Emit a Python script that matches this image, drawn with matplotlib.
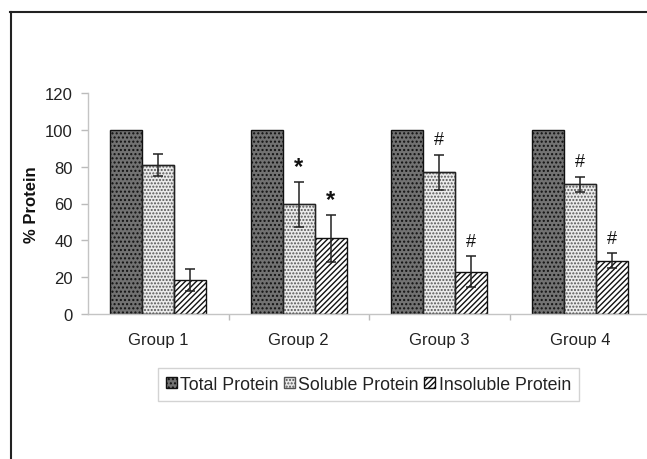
import matplotlib
matplotlib.use("Agg")
import matplotlib.pyplot as plt
import numpy as np
from matplotlib.lines import Line2D

plt.rcParams['font.family'] = ['Liberation Sans', 'DejaVu Sans']

groups = ["Group 1", "Group 2", "Group 3", "Group 4"]
series = ["Total Protein", "Soluble Protein", "Insoluble Protein"]
total = [100, 100, 100, 100]
soluble = [81, 59.5, 77, 70.5]
soluble_err = [6, 12, 9.5, 4]
insoluble = [18.5, 41, 23, 29]
insoluble_err = [6, 12.5, 8.5, 4]
soluble_marks = ["", "*", "#", "#"]
insoluble_marks = ["", "*", "#", "#"]
yticks = [0, 20, 40, 60, 80, 100, 120]

fig = plt.figure(figsize=(6.47, 4.6), dpi=100)
W, H = 647, 460
ax = fig.add_axes([88 / W, (H - 315) / H, (W - 88) / W, (315 - 94) / H])

x = np.arange(len(groups))
bw = 0.228
ax.bar(x - bw, total, bw, facecolor='#727272', edgecolor='#111111', hatch='....',
       linewidth=1.0, label=series[0], zorder=2)
ax.bar(x, soluble, bw, facecolor='#ebebeb', edgecolor='#555555', linewidth=1.0,
       hatch='.....', label=series[1], zorder=2)
ax.bar(x + bw, insoluble, bw, facecolor='white', edgecolor='#111111', hatch='//////',
       linewidth=1.0, label=series[2], zorder=2)
# redraw soluble edges darker
ax.bar(x, soluble, bw, facecolor='none', edgecolor='#222222', linewidth=1.0, zorder=3)

ax.errorbar(x, soluble, yerr=soluble_err, fmt='none', ecolor='#222222',
            elinewidth=1.1, capsize=3.6, capthick=1.1, zorder=4)
ax.errorbar(x + bw, insoluble, yerr=insoluble_err, fmt='none', ecolor='#222222',
            elinewidth=1.1, capsize=3.6, capthick=1.1, zorder=4)

for i in range(len(groups)):
    for xx, v, e, m in [(x[i], soluble[i], soluble_err[i], soluble_marks[i]),
                        (x[i] + bw, insoluble[i], insoluble_err[i], insoluble_marks[i])]:
        if m:
            if m == "*":
                ax.text(xx, v + e + 2.5, m, ha='center', va='bottom', fontsize=17,
                        fontweight='bold', color='#111111')
            else:
                ax.text(xx, v + e + 3.5, m, ha='center', va='bottom', fontsize=13,
                        color='#111111')

ax.set_ylim(0, 120)
ax.set_xlim(-0.5, -0.5 + (W - 88) / 140.5)
ax.set_yticks(yticks)
ax.set_xticks(x)
ax.set_xticklabels(groups)
ax.set_xticks([0.5, 1.5, 2.5], minor=True)
ax.tick_params(axis='x', which='major', length=0, pad=13, labelsize=12, colors='#222222')
ax.tick_params(axis='x', which='minor', length=4, color='#bbbbbb', width=1)
ax.tick_params(axis='y', length=5, color='#bbbbbb', width=1, labelsize=12,
               labelcolor='#222222', pad=6)
for s in ['top', 'right']:
    ax.spines[s].set_visible(False)
for s in ['left', 'bottom']:
    ax.spines[s].set_color('#c4c4c4')
    ax.spines[s].set_linewidth(1.0)
ax.set_ylabel("% Protein", fontsize=12, fontweight='bold', color='#111111', labelpad=4)

leg = fig.legend(loc='center', bbox_to_anchor=(368.5 / W, (H - 385.5) / H), ncol=3,
                 frameon=True, fancybox=False, fontsize=12.8, handlelength=0.6,
                 handleheight=0.55, handletextpad=0.2, columnspacing=0.3,
                 borderpad=0.45, borderaxespad=0, edgecolor='#c8c8c8')
leg.get_frame().set_linewidth(1.0)
for t in leg.get_texts():
    t.set_color('#222222')

# outer frame lines (top and left)
fig.add_artist(Line2D([10 / W, 1.0], [(H - 12.5) / H, (H - 12.5) / H], color='#222222',
                      linewidth=1.5, transform=fig.transFigure))
fig.add_artist(Line2D([10.5 / W, 10.5 / W], [0, (H - 12.5) / H], color='#222222',
                      linewidth=1.5, transform=fig.transFigure))

fig.savefig("out.png", dpi=100)
